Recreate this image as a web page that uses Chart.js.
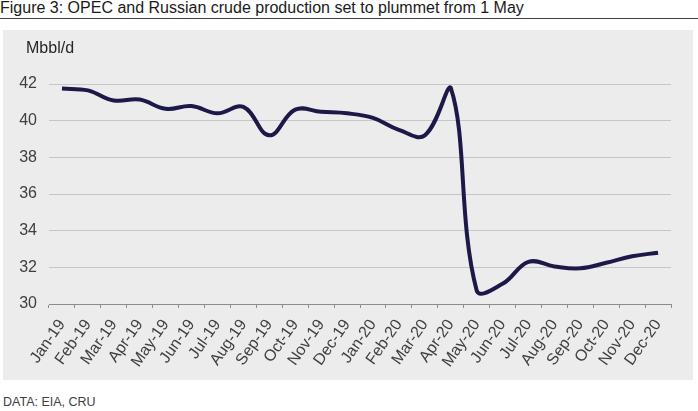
<!DOCTYPE html>
<html>
<head>
<meta charset="utf-8">
<script src="https://cdn.jsdelivr.net/npm/chart.js@4.4.0/dist/chart.umd.min.js"></script>
<style>
  body { margin: 0; background: #fff; font-family: "Liberation Sans", Arial, sans-serif; }
  #wrap { position: relative; width: 698px; height: 411px; }
  #title { position: absolute; left: 0; top: 0; width: 698px; height: 18px; font-size: 16px; line-height: 16px; color: #1a1a1a; border-bottom: 1px solid #404040; }
  #panel { position: absolute; left: 3px; top: 30px; width: 690px; height: 350px; background: #ececec; }
  #unit { position: absolute; left: 23px; top: 9px; font-size: 16px; color: #262626; }
  #source { position: absolute; left: 3px; top: 395px; font-size: 12.5px; color: #404040; }
</style>
</head>
<body>
<div id="wrap">
  <div id="title">Figure 3: OPEC and Russian crude production set to plummet from 1 May</div>
  <div id="panel">
    <canvas id="lineChart" width="690" height="350"></canvas>
    <div id="unit">Mbbl/d</div>
  </div>
  <div id="source">DATA: EIA, CRU</div>
</div>
<script>
// Month labels on the x axis
const months = [
	"Jan-19", "Feb-19", "Mar-19", "Apr-19", "May-19", "Jun-19",
	"Jul-19", "Aug-19", "Sep-19", "Oct-19", "Nov-19", "Dec-19",
	"Jan-20", "Feb-20", "Mar-20", "Apr-20", "May-20", "Jun-20",
	"Jul-20", "Aug-20", "Sep-20", "Oct-20", "Nov-20", "Dec-20",
];

// OPEC + Russia crude production, Mbbl/d
const production = [
	41.75, 41.65, 41.1, 41.15, 40.65, 40.8,
	40.4, 40.75, 39.2, 40.6, 40.48, 40.4,
	40.15, 39.5, 39.2, 41.8, 30.75, 31.1,
	32.3, 32.05, 31.95, 32.25, 32.6, 32.8,
];

// y axis range
const yMin = 30;
const yMax = 42;
const yStep = 2;

const ctx = document.getElementById("lineChart").getContext("2d");
new Chart(ctx, {
	type: "line",
	data: {
		labels: months,
		datasets: [
			{
				label: "Production",
				data: production,
				borderColor: "#1c1848",
				borderWidth: 4,
				pointRadius: 0,
				tension: 0.4,
				fill: false,
			},
		],
	},
	options: {
		responsive: false,
		animation: false,
		layout: { padding: { top: 54, right: 22, left: 0, bottom: 0 } },
		plugins: {
			legend: { display: false },
			tooltip: { enabled: false },
		},
		scales: {
			x: {
				offset: true,
				grid: {
					offset: true,
					drawOnChartArea: false,
					drawTicks: true,
					tickLength: 4,
					color: "#8c8c8c",
				},
				border: { display: true, color: "#8c8c8c", width: 1 },
				ticks: {
					autoSkip: false,
					maxRotation: 55,
					minRotation: 55,
					padding: 8,
					color: "#404040",
					font: { family: "Liberation Sans", size: 16 },
				},
				afterFit: (scale) => { scale.height = 76; },
			},
			y: {
				min: yMin,
				max: yMax,
				ticks: {
					stepSize: yStep,
					padding: 12,
					color: "#404040",
					font: { family: "Liberation Sans", size: 16 },
				},
				grid: { color: "#c6c6c6", drawTicks: false },
				border: { display: false },
				afterFit: (scale) => { scale.width = 46; },
			},
		},
	},
});
</script>
</body>
</html>
